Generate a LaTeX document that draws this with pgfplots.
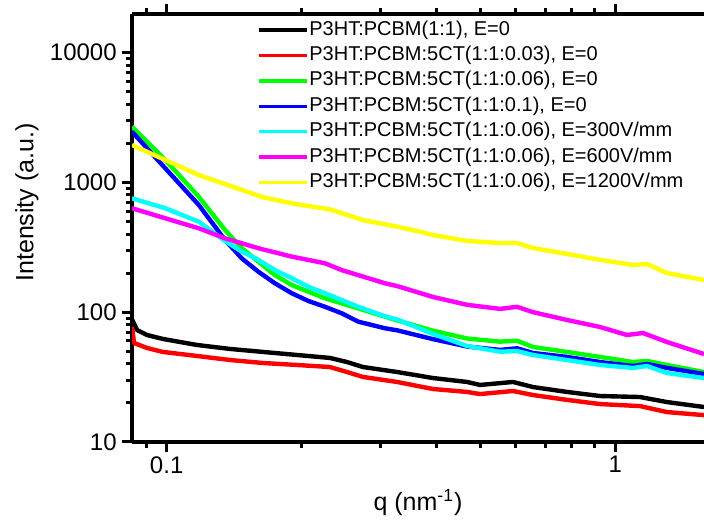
\documentclass[border=0pt]{standalone}
\usepackage{fontspec}
\setmainfont{Liberation Sans}
\usepackage{pgfplots}
\pgfplotsset{compat=1.18}
\definecolor{cred}{RGB}{255,0,0}
\definecolor{cgreen}{RGB}{0,255,0}
\definecolor{cblue}{RGB}{0,0,255}
\definecolor{ccyan}{RGB}{0,255,255}
\definecolor{cmag}{RGB}{255,0,255}
\definecolor{cyel}{RGB}{255,255,0}
\begin{document}
\begin{tikzpicture}
\begin{axis}[
  scale only axis, width=286pt, height=214pt,
  xmode=log, ymode=log,
  xmin=0.0837, xmax=1.5763, ymin=10, ymax=19840,
  axis x line=box, axis y line=left,
  axis line style={-, line width=2pt, black},
  tick align=outside,
  major tick length=5pt, minor tick length=3pt,
  tick style={black, line width=1.5pt},
  xtick={0.1,1}, xticklabels={0.1,1},
  minor xtick={0.09,0.2,0.3,0.4,0.5,0.6,0.7,0.8,0.9},
  ytick={10,100,1000,10000}, yticklabels={10,100,1000,10000},
  minor ytick={20,30,40,50,60,70,80,90,200,300,400,500,600,700,800,900,2000,3000,4000,5000,6000,7000,8000,9000},
  ticklabel style={font=\fontsize{12}{14}\selectfont},
  yticklabel style={inner sep=1pt, xshift=-1.5pt},
  xticklabel style={inner sep=1pt, yshift=-1pt},
  every axis x label/.style={at={(axis description cs:0.5,0)}, anchor=base, yshift=-34.3pt, font=\fontsize{12.5}{15}\selectfont},
  every axis y label/.style={at={(axis description cs:-0.1724,0.5596)}, rotate=90, anchor=base, font=\fontsize{12.5}{15}\selectfont},
  xlabel={q (nm\textsuperscript{-1})},
  ylabel={Intensity (a.u.)},
  no markers,
  every axis plot/.append style={line width=2.2pt, line join=round},
  legend cell align=left,
  legend style={at={(axis description cs:0.2185,0.988)}, anchor=north west, draw=none, fill=none, inner sep=0pt, outer sep=0pt,
    font=\fontsize{10}{12}\selectfont, row sep=1.7pt,
    nodes={inner sep=0.5pt, text height=7.5pt, text depth=2.5pt},
    /tikz/every even column/.append style={column sep=2pt}},
  legend image code/.code={\draw[#1, line width=1.7pt] (0pt,0pt) -- (24pt,0pt);},
]
\addplot[black] coordinates {(0.0837,88) (0.0859,72.9) (0.0904,66.7) (0.0981,62.2) (0.1168,55.9) (0.1384,52.1) (0.1640,49.4) (0.1952,46.8) (0.2312,44.4) (0.2523,41.3) (0.2739,37.8) (0.3263,34.6) (0.3923,31.1) (0.4671,29.0) (0.4994,27.5) (0.5915,29.0) (0.6554,26.5) (0.7805,24.3) (0.9245,22.6) (1.1352,22.2) (1.3036,20.3) (1.5763,18.6)};
\addlegendentry{P3HT:PCBM(1:1), E=0}
\addplot[cred] coordinates {(0.0837,76.9) (0.0846,57.9) (0.0904,53.0) (0.0981,49.4) (0.1168,46.0) (0.1384,42.8) (0.1640,40.6) (0.1952,39.2) (0.2312,37.8) (0.2523,34.6) (0.2739,31.7) (0.3263,29.0) (0.3923,25.6) (0.4671,24.3) (0.4994,23.4) (0.5915,24.7) (0.6554,23.0) (0.7805,21.1) (0.9245,19.6) (1.1352,18.9) (1.3036,17.0) (1.5763,16.1)};
\addlegendentry{P3HT:PCBM:5CT(1:1:0.03), E=0}
\addplot[cgreen] coordinates {(0.0837,2686) (0.0993,1488) (0.1179,776) (0.1349,430) (0.1470,311) (0.1601,245) (0.1743,193) (0.1900,162) (0.2069,144) (0.2254,128) (0.2455,117) (0.2674,107) (0.3066,92.3) (0.3263,86.5) (0.3923,72) (0.4671,62.7) (0.5534,59.3) (0.6038,60.3) (0.6554,53.9) (0.7805,49.4) (0.9245,45.2) (1.0951,41.3) (1.1767,42.1) (1.3036,39.2) (1.5763,34.6)};
\addlegendentry{P3HT:PCBM:5CT(1:1:0.06), E=0}
\addplot[cblue] coordinates {(0.0837,2459) (0.0993,1284) (0.1179,670) (0.1349,360) (0.1470,260) (0.1601,205) (0.1743,167) (0.1900,140) (0.2069,122) (0.2254,110) (0.2455,98.1) (0.2674,84.5) (0.3066,75.2) (0.3263,72.5) (0.3923,62) (0.4671,54.4) (0.5534,51.2) (0.6038,52.7) (0.6554,48.5) (0.7805,45.2) (0.9245,41.3) (1.0951,38.5) (1.1767,39.9) (1.3036,37.2) (1.5763,33.4)};
\addlegendentry{P3HT:PCBM:5CT(1:1:0.1), E=0}
\addplot[ccyan] coordinates {(0.0837,754) (0.0993,632) (0.1179,498) (0.1349,354) (0.1470,293) (0.1601,253) (0.1743,211) (0.1900,183) (0.2069,157) (0.2254,140) (0.2455,124) (0.2674,110) (0.3066,93) (0.3263,88) (0.3923,68) (0.4671,54.9) (0.5534,49.6) (0.6038,50.2) (0.6554,46.8) (0.7805,42.8) (0.9245,39.2) (1.0951,37.2) (1.1767,38.5) (1.3036,34.0) (1.5763,31.1)};
\addlegendentry{P3HT:PCBM:5CT(1:1:0.06), E=300V/mm}
\addplot[cmag] coordinates {(0.0837,632) (0.0993,529) (0.1179,443) (0.1349,371) (0.1601,311) (0.1900,268) (0.2254,238) (0.2455,211) (0.2674,193) (0.3066,167) (0.3263,159) (0.3923,131) (0.4671,114) (0.5534,106) (0.6038,110) (0.6554,100) (0.7805,87.1) (0.9245,76.9) (1.0619,66.7) (1.1528,69.1) (1.3036,58.9) (1.5763,47.6)};
\addlegendentry{P3HT:PCBM:5CT(1:1:0.06), E=600V/mm}
\addplot[cyel] coordinates {(0.0837,1941) (0.0993,1488) (0.1179,1140) (0.1472,874) (0.1640,768) (0.1952,678) (0.2312,620) (0.2739,513) (0.3263,456) (0.3670,417) (0.3923,393) (0.4671,354) (0.5534,341) (0.6038,341) (0.6554,312) (0.7805,281) (0.9245,253) (1.0951,231) (1.1767,235) (1.3036,200) (1.5763,177)};
\addlegendentry{P3HT:PCBM:5CT(1:1:0.06), E=1200V/mm}
\coordinate (sw) at (rel axis cs:0,0);
\coordinate (ne) at (rel axis cs:1,1);
\end{axis}
\pgfresetboundingbox
\path[use as bounding box] ([shift={(-66pt,-39.5pt)}]sw) rectangle ([shift={(0pt,7pt)}]ne);
\end{tikzpicture}
\end{document}
